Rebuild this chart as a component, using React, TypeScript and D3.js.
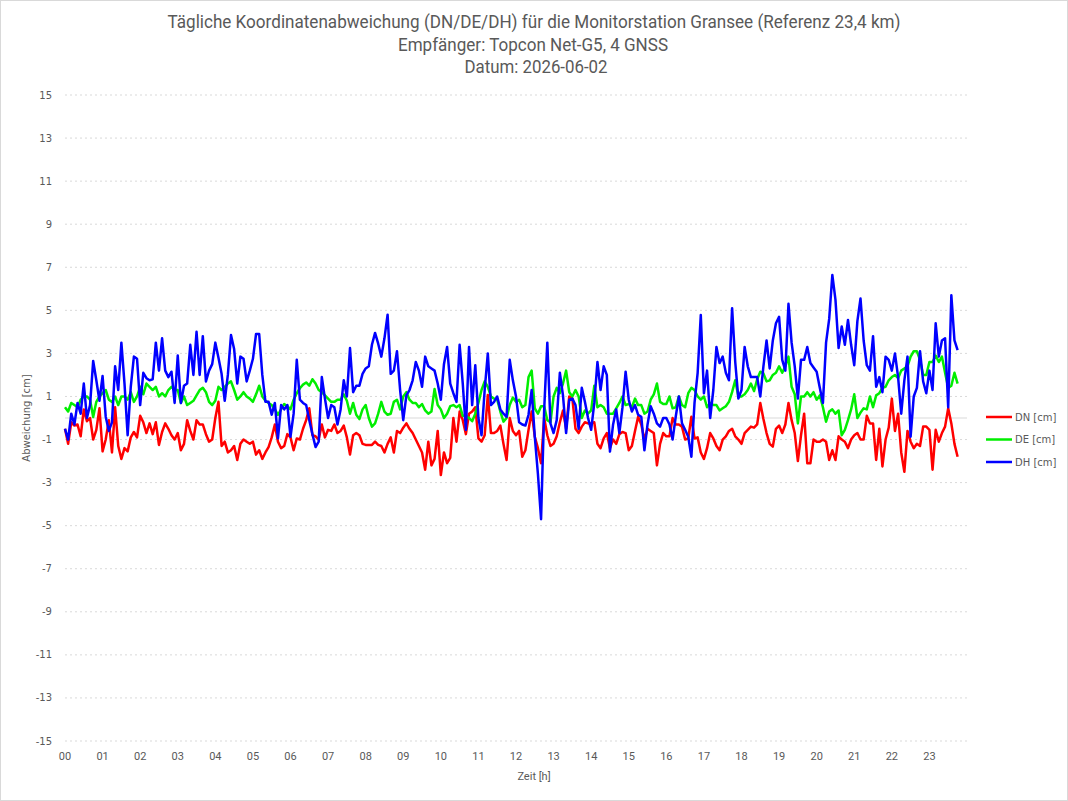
import React from 'react';
import * as d3 from 'd3';

// Zeitachse: ein Messwert alle 5 Minuten
const stepMinutes = 5;
const hourLabels = ['00', '01', '02', '03', '04', '05', '06', '07', '08', '09', '10', '11',
  '12', '13', '14', '15', '16', '17', '18', '19', '20', '21', '22', '23'];
const yTickValues = [15, 13, 11, 9, 7, 5, 3, 1, -1, -3, -5, -7, -9, -11, -13, -15];

const seriesNames = ['DN [cm]', 'DE [cm]', 'DH [cm]'];
const seriesColors = ['#ff0000', '#00ee00', '#0000ff'];

const dn = [
  -0.5, -1.2, -0.2, -0.35, -0.3, -0.85, 0.4, -0.15, 0.0, -1.0,
  -0.55, 0.45, -1.55, -1.0, -0.1, -1.6, 0.5, -1.3, -1.9, -1.4,
  -1.55, -0.9, -0.65, -0.9, 0.1, -0.2, -0.7, -0.25, -0.75, -0.2,
  -1.25, -0.65, -0.25, -0.5, -0.8, -1.0, -0.7,
  -1.5, -1.2, -0.1, -0.6, -1.0, -0.1, -0.3, -0.3, -0.75, -1.1,
  -1.0, 0.0, 0.75, -1.3, -1.1, -1.6, -1.5, -1.3, -1.95, -1.2,
  -1.0, -1.1, -1.2, -1.1, -1.7, -1.5, -1.9, -1.6, -1.35, -0.9,
  -0.3, -1.1, -1.4, -1.3, -0.75, -0.9,
  -1.5, -0.95, -1.0, -0.5, -0.1, 0.45, -0.8, -0.85, -1.0, -0.3,
  -0.9, -0.55, -0.6, -0.3, -0.7, -0.6, -0.35, -0.9, -1.7, -0.8,
  -0.7, -0.8, -1.2, -1.25, -1.25, -1.25, -1.1, -1.25, -1.3, -1.6,
  -1.2, -0.9, -1.6, -0.6, -0.7, -0.45, -0.25,
  -0.5, -0.7, -1.0, -1.3, -1.6, -2.4, -1.1, -2.2, -1.9, -0.6,
  -2.65, -1.6, -2.1, -1.85, 0.0, -1.1, 0.3, -0.1, -0.75, 0.2,
  0.3, 0.5, -0.95, -1.1, -0.8, 1.07, -0.7, -0.7, -0.6, -0.35,
  -1.2, -1.95, 0.0, -0.6, -0.8, -0.6, -1.8,
  -1.5, -0.55, 0.3, -0.87, -1.4, -2.1, 0.0, -0.8, -1.3, -1.2,
  -0.85, -0.2, 0.35, -0.5, 1.0, 0.9, -0.5, -0.7, -0.4, -0.2,
  -0.25, -0.25, -0.2, -1.2, -1.4, -0.95, -0.7, -1.4, -1.0, -1.2,
  -0.75, -0.65, -0.7, -1.5, -1.3, -0.6, 0.06,
  -0.3, -1.0, -0.5, -0.6, -0.7, -2.2, -1.2, -0.7, -0.85, -0.85,
  0.0, -0.3, -0.3, -0.4, -1.0, -0.95, 0.06, -0.95, -0.9, -1.6,
  -1.9, -1.4, -0.7, -0.95, -1.3, -1.5, -1.0, -0.85, -0.6, -0.5,
  -0.85, -1.0, -1.2, -0.7, -0.55, -0.4,
  -0.45, -0.3, 0.7, -0.05, -0.7, -1.2, -1.33, -0.5, -0.35, -0.7,
  -0.3, 0.7, -0.1, -0.7, -2.0, -0.8, 0.2, -2.1, -2.1, -1.0,
  -1.1, -1.1, -1.0, -1.1, -1.95, -1.5, -1.95, -0.85, -1.0, -1.1,
  -1.4, -1.0, -0.8, -0.7,
  -1.0, -1.0, 0.1, -0.25, -0.25, -1.95, -0.5, -2.25, -1.0, -0.45,
  0.9, -0.6, 0.2, -1.6, -2.5, -0.6, -1.1, -1.4, -1.2, -1.3,
  -0.4, -0.4, -0.55, -2.4, -0.55, -1.1, -0.7, -0.4, 0.45, -0.25,
  -1.2, -1.8,
];

const de = [
  0.5, 0.3, 0.7, 0.6, 0.5, 0.85, 1.0, 1.0, 0.85, 0.05,
  0.75, 1.0, 1.15, 1.3, 0.85, 0.75, 1.0, 0.6, 1.0, 1.0,
  0.85, 1.2, 0.75, 1.0, 1.45, 1.1, 1.6, 1.45, 1.3, 1.45,
  1.0, 1.15, 1.0, 1.3, 1.45, 1.3, 1.3,
  0.7, 1.0, 0.6, 0.7, 0.8, 1.05, 1.3, 1.4, 1.2, 0.75,
  0.6, 0.8, 1.45, 1.3, 1.45, 1.6, 1.7, 1.3, 0.85, 1.0,
  1.2, 1.0, 0.9, 0.75, 1.1, 1.5, 1.0, 0.8, 0.7, 0.6,
  0.4, 0.15, 0.4, 0.65, 0.55, 0.4,
  0.85, 1.15, 1.38, 1.55, 1.65, 1.5, 1.8, 1.6, 1.3, 1.2,
  1.05, 0.9, 0.75, 0.75, 0.85, 0.85, 1.1, 0.8, 0.2, 0.7,
  0.15, -0.05, 0.4, 0.6, 0.0, -0.4, -0.25, 0.2, 0.75, 0.3,
  0.15, 0.2, 0.75, 0.85, 0.4, 1.0, 1.2,
  0.85, 0.7, 0.7, 0.5, 0.65, 0.35, 0.2, 0.3, 1.35, 0.6,
  0.4, 0.0, 0.2, 0.55, 0.6, 0.5, 0.6, 0.1, 0.1, 0.0,
  -0.15, 0.2, 0.7, 1.3, 1.7, 1.45, 1.0, 0.9, 0.85, 0.3,
  -0.17, 0.0, 0.6, 0.95, 0.75, 0.85, 0.5,
  0.6, 1.9, 2.2, 0.45, 0.2, 0.55, 0.55, -0.1, -0.2, 1.0,
  1.4, 1.15, 1.6, 2.2, 1.2, 1.0, 1.3, 1.0, 0.0, 0.35,
  0.2, 0.35, 1.5, 0.5, 0.6, 0.5, 0.2, 0.2, 0.2, 0.45,
  0.7, 1.0, 0.6, 0.65, 0.5, 0.9, 0.6,
  0.6, 0.2, 0.3, 0.85, 1.1, 1.6, 0.75, 0.65, 0.65, 1.0,
  0.45, 0.5, 1.0, 0.6, 0.5, 1.15, 1.4, 1.3, 1.0, 0.85,
  1.0, 0.5, 0.7, 0.6, 0.6, 0.35, 0.45, 0.55, 0.75, 1.2,
  1.75, 1.0, 1.0, 1.1, 1.3, 1.6,
  1.25, 1.8, 2.15, 2.07, 1.7, 1.75, 2.0, 2.1, 2.4, 2.1,
  2.4, 2.85, 1.45, 1.1, -0.25, 1.0, 1.0, 1.2, 1.0, 1.2,
  0.85, 1.05, 0.5, -0.17, 0.3, 0.4, 0.2, 0.35, -0.8, -0.55,
  -0.1, 0.4, 1.1, 0.0,
  0.25, 0.45, 0.4, 1.0, 0.5, 1.05, 1.15, 1.4, 1.45, 1.75,
  1.9, 2.0, 1.85, 2.2, 2.3, 2.4, 2.85, 3.1, 3.1, 2.7,
  2.0, 2.0, 2.6, 2.6, 2.9, 2.6, 2.85, 2.1, 1.4, 1.5,
  2.1, 1.6,
];

const dh = [
  -0.5, -1.0, 0.2, -0.3, 0.7, 0.2, 1.6, 0.0, 0.6, 2.65,
  1.75, 0.8, 1.95, 0.06, -0.6, -0.2, 2.4, 1.3, 3.5, 1.6,
  -0.8, 1.45, 2.85, 2.75, 0.6, 2.1, 1.85, 1.75, 1.8, 3.5,
  2.2, 3.7, 2.2, 1.9, 2.15, 0.7, 2.9,
  0.7, 1.5, 1.6, 3.4, 2.0, 4.0, 2.0, 3.8, 1.7, 2.2,
  2.5, 3.5, 2.8, 2.05, 0.8, 2.0, 3.85, 3.2, 1.6, 2.85,
  2.75, 1.7, 2.2, 2.75, 3.9, 3.9, 2.0, 0.75, 0.75, 0.15,
  0.7, -0.95, 0.6, 0.4, 0.6, -0.87,
  0.2, 2.7, 0.85, 0.7, 0.6, -0.1, -0.75, -1.35, -1.1, 1.9,
  0.9, 0.0, 0.6, 0.5, -0.3, 0.4, 1.75, 1.0, 3.25, 1.2,
  1.5, 1.5, 2.05, 2.3, 2.4, 3.4, 3.95, 3.45, 2.85, 3.7,
  4.8, 2.05, 2.2, 3.1, 1.3, -0.1, 1.05,
  1.3, 1.75, 2.6, 2.2, 1.45, 2.85, 2.4, 2.3, 2.2, 1.6,
  0.85, 2.5, 3.3, 1.6, 1.15, 0.75, 3.4, 1.6, -0.55, 3.3,
  0.6, 2.45, 0.0, -0.8, 1.3, 3.0, 0.6, 0.75, 1.0, 0.4,
  0.2, 0.05, 2.7, 1.75, 1.0, -0.2, -0.3,
  -0.35, 0.15, 1.3, -0.87, -2.6, -4.7, 0.4, 3.5, -0.25, -0.7,
  -0.1, 2.1, 1.05, -0.7, 0.85, 0.9, 0.6, -0.5, 1.4, 0.75,
  0.0, -0.55, 0.7, 2.6, 1.3, 2.4, 2.0, -1.56, -0.3, 0.4,
  -0.7, 0.5, 2.15, 0.85, 0.3, 0.6, 0.15,
  0.06, -1.5, -0.3, 0.55, 0.2, -0.25, -0.4, 0.0, 0.0, -0.3,
  -1.0, 0.06, 1.0, -0.25, -0.55, -0.87, -1.8, 0.7, 2.1, 4.78,
  1.15, 2.2, 0.0, 1.3, 3.3, 2.55, 2.85, 2.1, 1.75, 5.1,
  2.6, 0.9, 1.3, 3.3, 2.4, 1.9,
  1.9, 1.9, 1.0, 2.4, 3.6, 2.3, 3.6, 4.4, 4.7, 2.7,
  2.2, 5.3, 3.5, 2.4, 0.9, 2.7, 2.7, 3.3, 2.55, 2.35,
  2.15, 1.4, 0.7, 3.5, 4.6, 6.64, 5.5, 3.25, 4.25, 3.4,
  4.55, 3.4, 2.45, 4.5,
  5.55, 3.6, 2.45, 2.2, 3.8, 1.45, 1.9, 1.2, 2.85, 2.7,
  2.2, 3.0, 1.9, 0.2, 1.75, 2.85, -0.87, 1.0, 1.4, 3.1,
  1.7, 1.15, 2.2, 1.3, 4.4, 2.85, 3.6, 3.7, 0.5, 5.7,
  3.6, 3.15,
];

const W = 1068;
const H = 801;
const textColor = '#595959';
const gridColor = '#d9d9d9';
const narrow = '"Liberation Sans Narrow", "Roboto", "Liberation Sans", sans-serif';
const plain = '"DejaVu Sans", "Liberation Sans", sans-serif';

export default function App() {
  const x = d3.scaleLinear().domain([0, 24]).range([65, 967]);
  const y = d3.scaleLinear().domain([-15, 15]).range([741, 95]);

  const line = d3.line<number>()
    .x((_, i) => x((i * stepMinutes) / 60))
    .y(v => y(v));

  const series = [dn, de, dh];

  return (
    <svg width={W} height={H} style={{position: 'absolute', left: 0, top: 0, background: '#fff'}}>
      <rect x={0.5} y={0.5} width={W - 1} height={H - 1} fill="#fff" stroke={gridColor} />

      {/* title */}
      <g fill={textColor} fontFamily={narrow} fontSize={18} textAnchor="middle">
        <text x={534} y={28} textLength={733} lengthAdjust="spacingAndGlyphs">
          Tägliche Koordinatenabweichung (DN/DE/DH) für die Monitorstation Gransee (Referenz 23,4 km)
        </text>
        <text x={533} y={51} textLength={270} lengthAdjust="spacingAndGlyphs">Empfänger: Topcon Net-G5, 4 GNSS</text>
        <text x={536} y={73} textLength={143} lengthAdjust="spacingAndGlyphs">Datum: 2026-06-02</text>
      </g>

      {/* grid */}
      {yTickValues.map(t => (
        <line key={t} x1={x(0)} x2={x(24)} y1={y(t)} y2={y(t)}
          stroke={gridColor} strokeWidth={1} strokeDasharray="2,3" />
      ))}
      <line x1={x(0)} x2={x(24)} y1={y(0)} y2={y(0)} stroke={gridColor} strokeWidth={1} />

      {/* y axis */}
      <g fill={textColor} fontFamily={plain} fontSize={10} textAnchor="end">
        {yTickValues.map(t => (
          <text key={t} x={52} y={y(t)} dy="0.35em">{t}</text>
        ))}
      </g>
      <text transform={`translate(30,${y(0)}) rotate(-90)`} textAnchor="middle"
        fill={textColor} fontFamily={plain} fontSize={10}>Abweichung [cm]</text>

      {/* x axis */}
      <g fill={textColor} fontFamily={narrow} fontSize={11} textAnchor="middle">
        {hourLabels.map((l, i) => (
          <text key={l} x={x(i)} y={760}>{l}</text>
        ))}
      </g>
      <text x={534} y={780} textAnchor="middle" fill={textColor} fontFamily={narrow} fontSize={11}>Zeit [h]</text>

      {/* series */}
      {series.map((s, k) => (
        <path key={k} d={line(s) || ''} fill="none" stroke={seriesColors[k]}
          strokeWidth={2.5} strokeLinejoin="round" />
      ))}

      {/* legend */}
      {seriesNames.map((n, k) => (
        <g key={n} transform={`translate(986,${417 + k * 22.5})`}>
          <line x1={0} x2={26} y1={0} y2={0} stroke={seriesColors[k]} strokeWidth={2.5} />
          <text x={29} y={0} dy="0.35em" fill={textColor} fontFamily={plain} fontSize={10}>{n}</text>
        </g>
      ))}
    </svg>
  );
}
